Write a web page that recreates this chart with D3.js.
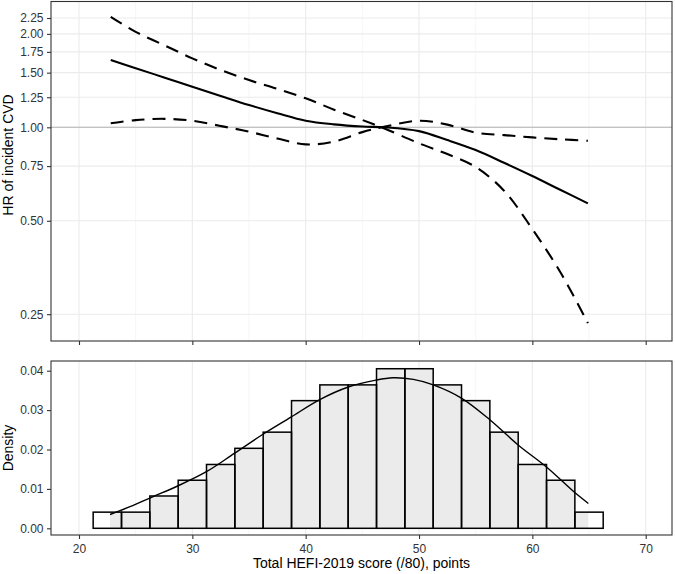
<!DOCTYPE html>
<html>
<head>
<meta charset="utf-8">
<script src="https://cdn.jsdelivr.net/npm/d3@7"></script>
<style>
  body { margin: 0; background: #fff; }
  svg text { font-family: "Liberation Sans", Arial, Helvetica, sans-serif; }
</style>
</head>
<body>
<svg id="chart" width="675" height="574"></svg>
<script>
// ---- data ----
const xTicks = [20, 30, 40, 50, 60, 70];
const xMinorTicks = [25, 35, 45, 55, 65];
const hrTicks = [0.25, 0.5, 0.75, 1, 1.25, 1.5, 1.75, 2, 2.25];
const densTicks = [0, 0.01, 0.02, 0.03, 0.04];

// spline HR of incident CVD vs HEFI-2019 score
const score = [22.8, 25, 27.5, 30, 32.5, 35, 37.5, 40, 42.5, 45, 47, 50, 52.5, 55, 57.5, 60, 62.5, 64.9];
const hrEst = [1.648, 1.55, 1.448, 1.351, 1.262, 1.18, 1.11, 1.05, 1.022, 1.006, 1.0, 0.972, 0.91, 0.845, 0.769, 0.697, 0.628, 0.569];
const hrUpperLeft = [2.27, 2.03, 1.84, 1.668, 1.53, 1.42, 1.33, 1.24, 1.14, 1.056, 0.99, 0.888, 0.82, 0.745, 0.625, 0.47, 0.34, 0.234];
const hrLowerLeft = [1.03, 1.055, 1.065, 1.05, 1.01, 0.968, 0.92, 0.881, 0.90, 0.965, 1.005, 1.05, 1.02, 0.961, 0.944, 0.928, 0.915, 0.905];

// histogram of score (density)
const binEdges = [21.25, 23.75, 26.25, 28.75, 31.25, 33.75, 36.25, 38.75, 41.25, 43.75, 46.25, 48.75, 51.25, 53.75, 56.25, 58.75, 61.25, 63.75, 66.25];
const binDensity = [0.0041, 0.0041, 0.0082, 0.0122, 0.0162, 0.0203, 0.0244, 0.0324, 0.0364, 0.0364, 0.0405, 0.0405, 0.0364, 0.0324, 0.0244, 0.0162, 0.0122, 0.0041];

// kernel density curve
const densX = [22.74, 24.5, 26.5, 28.75, 31.2, 33.7, 36.2, 38.7, 41.2, 43.7, 46.2, 47.7, 49.5, 51.26, 53.77, 56.27, 58.77, 61.27, 63.77, 64.94];
const densY = [0.0035, 0.0055, 0.0080, 0.0108, 0.0143, 0.0190, 0.0238, 0.0282, 0.0326, 0.0358, 0.0376, 0.0382, 0.0378, 0.0364, 0.0330, 0.0275, 0.0211, 0.0155, 0.0090, 0.0063];

const svg = d3.select('#chart');

const panelLeft = 51, panelRight = 672;
const topP = {y0: 1.5, y1: 341};
const botP = {y0: 361, y1: 535};

const xScale = d3.scaleLinear().domain([20, 70]).range([79, 645.7]);
const yHR = d3.scaleLog().domain([0.25, 2.25]).range([314.2, 18]);
const yDens = d3.scaleLinear().domain([0, 0.04]).range([528.3, 370.7]);

const defs = svg.append('defs');
defs.append('clipPath').attr('id', 'clipTop').append('rect')
  .attr('x', panelLeft).attr('y', topP.y0).attr('width', panelRight - panelLeft).attr('height', topP.y1 - topP.y0);
defs.append('clipPath').attr('id', 'clipBot').append('rect')
  .attr('x', panelLeft).attr('y', botP.y0).attr('width', panelRight - panelLeft).attr('height', botP.y1 - botP.y0);
// gray fill only over the range covered by the density curve
defs.append('clipPath').attr('id', 'clipFill').append('rect')
  .attr('x', xScale(densX[0])).attr('y', botP.y0)
  .attr('width', xScale(densX[densX.length - 1]) - xScale(densX[0])).attr('height', botP.y1 - botP.y0);

// ================= top panel =================
const gTop = svg.append('g').attr('clip-path', 'url(#clipTop)');

gTop.selectAll('.minor-x').data(xMinorTicks).enter().append('line')
  .attr('x1', d => xScale(d)).attr('x2', d => xScale(d))
  .attr('y1', topP.y0).attr('y2', topP.y1)
  .attr('stroke', '#f2f2f2').attr('stroke-width', 0.7);
gTop.selectAll('.major-x').data(xTicks).enter().append('line')
  .attr('x1', d => xScale(d)).attr('x2', d => xScale(d))
  .attr('y1', topP.y0).attr('y2', topP.y1)
  .attr('stroke', '#ebebeb').attr('stroke-width', 1.1);
gTop.selectAll('.major-y').data(hrTicks).enter().append('line')
  .attr('x1', panelLeft).attr('x2', panelRight)
  .attr('y1', d => yHR(d)).attr('y2', d => yHR(d))
  .attr('stroke', '#ebebeb').attr('stroke-width', 1.1);

// reference line at HR = 1
gTop.append('line')
  .attr('x1', panelLeft).attr('x2', panelRight)
  .attr('y1', yHR(1)).attr('y2', yHR(1))
  .attr('stroke', '#b3b3b3').attr('stroke-width', 1.1);

const hrLine = vals => d3.line()
  .x((d, i) => xScale(score[i]))
  .y(d => yHR(d))
  .curve(d3.curveCatmullRom)(vals);

gTop.append('path').attr('d', hrLine(hrUpperLeft))
  .attr('fill', 'none').attr('stroke', '#000').attr('stroke-width', 2.1)
  .attr('stroke-dasharray', '13,8');
gTop.append('path').attr('d', hrLine(hrLowerLeft))
  .attr('fill', 'none').attr('stroke', '#000').attr('stroke-width', 2.1)
  .attr('stroke-dasharray', '13,8');
gTop.append('path').attr('d', hrLine(hrEst))
  .attr('fill', 'none').attr('stroke', '#000').attr('stroke-width', 2.1);

svg.append('rect')
  .attr('x', panelLeft).attr('y', topP.y0)
  .attr('width', panelRight - panelLeft).attr('height', topP.y1 - topP.y0)
  .attr('fill', 'none').attr('stroke', '#333').attr('stroke-width', 1.1);

// y axis (top)
const yAxisTop = svg.append('g').attr('transform', `translate(${panelLeft},0)`)
  .call(d3.axisLeft(yHR).tickValues(hrTicks).tickFormat(d3.format('.2f')).tickSize(4).tickPadding(3.5));
yAxisTop.select('.domain').remove();

// x ticks without labels (top)
const xAxisTop = svg.append('g').attr('transform', `translate(0,${topP.y1})`)
  .call(d3.axisBottom(xScale).tickValues(xTicks).tickSize(4).tickFormat(''));
xAxisTop.select('.domain').remove();

svg.append('text')
  .attr('transform', `translate(13,155) rotate(-90)`)
  .attr('text-anchor', 'middle')
  .attr('font-size', 14)
  .attr('fill', '#000')
  .text('HR of incident CVD');

// ================= bottom panel =================
const gBot = svg.append('g').attr('clip-path', 'url(#clipBot)');

gBot.selectAll('.minor-x').data(xMinorTicks).enter().append('line')
  .attr('x1', d => xScale(d)).attr('x2', d => xScale(d))
  .attr('y1', botP.y0).attr('y2', botP.y1)
  .attr('stroke', '#f2f2f2').attr('stroke-width', 0.7);
gBot.selectAll('.major-x').data(xTicks).enter().append('line')
  .attr('x1', d => xScale(d)).attr('x2', d => xScale(d))
  .attr('y1', botP.y0).attr('y2', botP.y1)
  .attr('stroke', '#ebebeb').attr('stroke-width', 1.1);

const bins = binDensity.map((d, i) => ({x0: binEdges[i], x1: binEdges[i + 1], d: d}));

gBot.selectAll('.bar-bg').data(bins).enter().append('rect')
  .attr('x', b => xScale(b.x0)).attr('width', b => xScale(b.x1) - xScale(b.x0))
  .attr('y', b => yDens(b.d)).attr('height', b => yDens(0) - yDens(b.d))
  .attr('fill', '#fff');
gBot.append('g').attr('clip-path', 'url(#clipFill)')
  .selectAll('.bar-fill').data(bins).enter().append('rect')
  .attr('x', b => xScale(b.x0)).attr('width', b => xScale(b.x1) - xScale(b.x0))
  .attr('y', b => yDens(b.d)).attr('height', b => yDens(0) - yDens(b.d))
  .attr('fill', '#ebebeb');
gBot.selectAll('.bar-line').data(bins).enter().append('rect')
  .attr('x', b => xScale(b.x0)).attr('width', b => xScale(b.x1) - xScale(b.x0))
  .attr('y', b => yDens(b.d)).attr('height', b => yDens(0) - yDens(b.d))
  .attr('fill', 'none').attr('stroke', '#000').attr('stroke-width', 1.5);

gBot.append('path')
  .attr('d', d3.line()
    .x((d, i) => xScale(densX[i]))
    .y(d => yDens(d))
    .curve(d3.curveCatmullRom)(densY))
  .attr('fill', 'none').attr('stroke', '#000').attr('stroke-width', 1.4);

svg.append('rect')
  .attr('x', panelLeft).attr('y', botP.y0)
  .attr('width', panelRight - panelLeft).attr('height', botP.y1 - botP.y0)
  .attr('fill', 'none').attr('stroke', '#333').attr('stroke-width', 1.1);

const yAxisBot = svg.append('g').attr('transform', `translate(${panelLeft},0)`)
  .call(d3.axisLeft(yDens).tickValues(densTicks).tickFormat(d3.format('.2f')).tickSize(4).tickPadding(3.5));
yAxisBot.select('.domain').remove();

const xAxisBot = svg.append('g').attr('transform', `translate(0,${botP.y1})`)
  .call(d3.axisBottom(xScale).tickValues(xTicks).tickSize(4).tickPadding(5));
xAxisBot.select('.domain').remove();

svg.selectAll('.tick line').attr('stroke', '#333').attr('stroke-width', 1.1);
svg.selectAll('.tick text').attr('fill', '#333').attr('font-size', 12)
  .attr('font-family', '"Liberation Sans", Arial, sans-serif');

svg.append('text')
  .attr('transform', `translate(13,${(botP.y0 + botP.y1) / 2}) rotate(-90)`)
  .attr('text-anchor', 'middle')
  .attr('font-size', 14)
  .attr('fill', '#000')
  .text('Density');

svg.append('text')
  .attr('x', (panelLeft + panelRight) / 2)
  .attr('y', 568)
  .attr('text-anchor', 'middle')
  .attr('font-size', 14)
  .attr('fill', '#000')
  .text('Total HEFI\u20112019 score (/80), points');
</script>
</body>
</html>
